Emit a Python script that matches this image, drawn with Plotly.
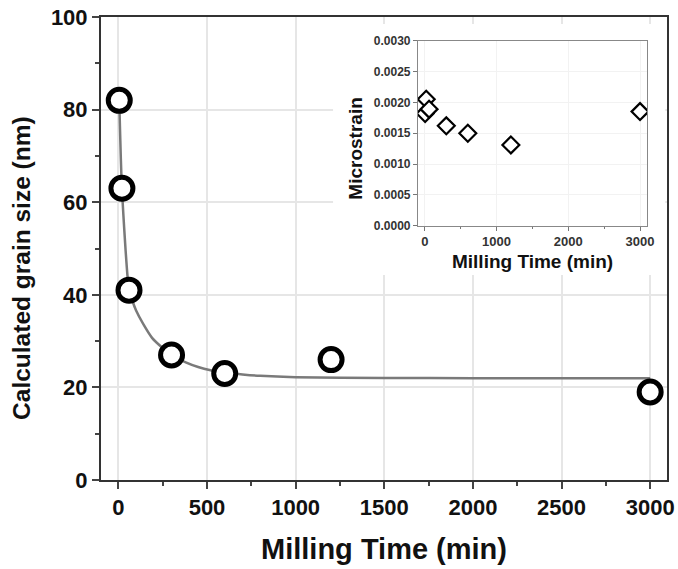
import plotly.graph_objects as go

# Main data: milling time (min) vs calculated grain size (nm)
milling_time = [5, 20, 60, 300, 600, 1200, 3000]
grain_size = [82, 63, 41, 27, 23, 26, 19]

# Fitted curve
fit_time = [5, 20, 60, 80, 100, 140, 190, 250, 300, 380, 450, 520, 600, 700, 800, 1000, 1500, 2000, 3000]
fit_size = [82, 63, 41, 38.6, 36.6, 33.7, 30.7, 28.5, 27.0, 25.4, 24.4, 23.7, 23.2, 22.8, 22.5, 22.2, 22.05, 22.0, 22.0]

# Inset data: microstrain
strain_time = [5, 20, 60, 300, 600, 1200, 3000]
microstrain = [0.00182, 0.00205, 0.00189, 0.00162, 0.00150, 0.00131, 0.00185]

x_ticks = [0, 500, 1000, 1500, 2000, 2500, 3000]
y_ticks = [0, 20, 40, 60, 80, 100]
inset_x_ticks = [0, 1000, 2000, 3000]
inset_y_ticks = [0.0, 0.0005, 0.0010, 0.0015, 0.0020, 0.0025, 0.0030]

X_RANGE = [-98, 3095]
Y_RANGE = [0, 100]

FONT = "Liberation Sans"

fig = go.Figure()

fig.add_trace(go.Scatter(
    x=fit_time, y=fit_size, mode="lines",
    line=dict(color="#7a7a7a", width=2.5, shape="spline", smoothing=0.6),
    xaxis="x", yaxis="y", showlegend=False, hoverinfo="skip"))

fig.add_trace(go.Scatter(
    x=milling_time, y=grain_size, mode="markers",
    marker=dict(symbol="circle", size=22, color="white",
                line=dict(color="black", width=5)),
    xaxis="x", yaxis="y", showlegend=False))

fig.add_trace(go.Scatter(
    x=strain_time, y=microstrain, mode="markers",
    marker=dict(symbol="diamond", size=13, color="white",
                line=dict(color="black", width=2.2)),
    xaxis="x2", yaxis="y2", showlegend=False))

axis_common = dict(showline=True, mirror=True, ticks="outside", zeroline=False, automargin=False)


def fx(f):
    return X_RANGE[0] + f * (X_RANGE[1] - X_RANGE[0])


def fy(f):
    return Y_RANGE[0] + f * (Y_RANGE[1] - Y_RANGE[0])


fig.update_layout(
    width=678, height=569,
    margin=dict(l=101, r=11, t=17, b=89),
    paper_bgcolor="white", plot_bgcolor="white",
    font=dict(family=FONT, color="#111111"),
    xaxis=dict(
        **axis_common, domain=[0, 1], range=X_RANGE,
        tickvals=x_ticks, ticklen=7, tickwidth=2, tickcolor="#444444",
        linecolor="#333333", linewidth=2,
        showgrid=True, gridcolor="#e6e6e6", gridwidth=1.5,
        minor=dict(dtick=250, ticks="outside", ticklen=4, tickwidth=1.5, tickcolor="#444444", showgrid=False),
        tickfont=dict(size=22, weight="bold", color="#111111"),
        title=dict(text="Milling Time (min)", font=dict(size=29, weight="bold", color="#111111"), standoff=19),
    ),
    yaxis=dict(
        **axis_common, domain=[0, 1], range=Y_RANGE,
        tickvals=y_ticks, ticklen=7, tickwidth=2, tickcolor="#444444",
        linecolor="#333333", linewidth=2,
        showgrid=True, gridcolor="#e6e6e6", gridwidth=1.5,
        minor=dict(dtick=10, ticks="outside", ticklen=4, tickwidth=1.5, tickcolor="#444444", showgrid=False),
        tickfont=dict(size=22, weight="bold", color="#111111"),
    ),
    xaxis2=dict(
        **axis_common, domain=[0.560, 0.965], anchor="y2", range=[-95, 3100],
        tickvals=inset_x_ticks, ticklen=4, tickwidth=1, tickcolor="#777777",
        linecolor="#888888", linewidth=1,
        showgrid=True, gridcolor="#f2f2f2", gridwidth=1,
        minor=dict(dtick=500, ticks="outside", ticklen=2, tickwidth=1, tickcolor="#777777", showgrid=False),
        tickfont=dict(size=13, weight="bold", color="#333333"),
        title=dict(text="Milling Time (min)", font=dict(size=19, weight="bold", color="#111111"), standoff=6),
    ),
    yaxis2=dict(
        **axis_common, domain=[0.549, 0.949], anchor="x2", range=[0, 0.003],
        tickvals=inset_y_ticks, tickformat=".4f", ticklen=4, tickwidth=1, tickcolor="#777777",
        linecolor="#888888", linewidth=1,
        showgrid=True, gridcolor="#f2f2f2", gridwidth=1,
        tickfont=dict(size=12, weight="bold", color="#333333"),
    ),
    annotations=[
        dict(text="Calculated grain size (nm)", xref="paper", yref="paper",
             x=-0.1396, y=0.458, xanchor="center", yanchor="middle",
             textangle=-90, showarrow=False,
             font=dict(size=24.5, weight="bold", color="#111111")),
        dict(text="Microstrain", xref="paper", yref="paper",
             x=0.449, y=0.716, xanchor="center", yanchor="middle",
             textangle=-90, showarrow=False,
             font=dict(size=19, weight="bold", color="#111111")),
    ],
    shapes=[dict(type="rect", xref="x", yref="y",
                 x0=fx(0.41), x1=fx(0.997), y0=fy(0.443), y1=fy(0.985),
                 fillcolor="white", line=dict(width=0), layer="between")],
)

fig.write_html("out.html")
